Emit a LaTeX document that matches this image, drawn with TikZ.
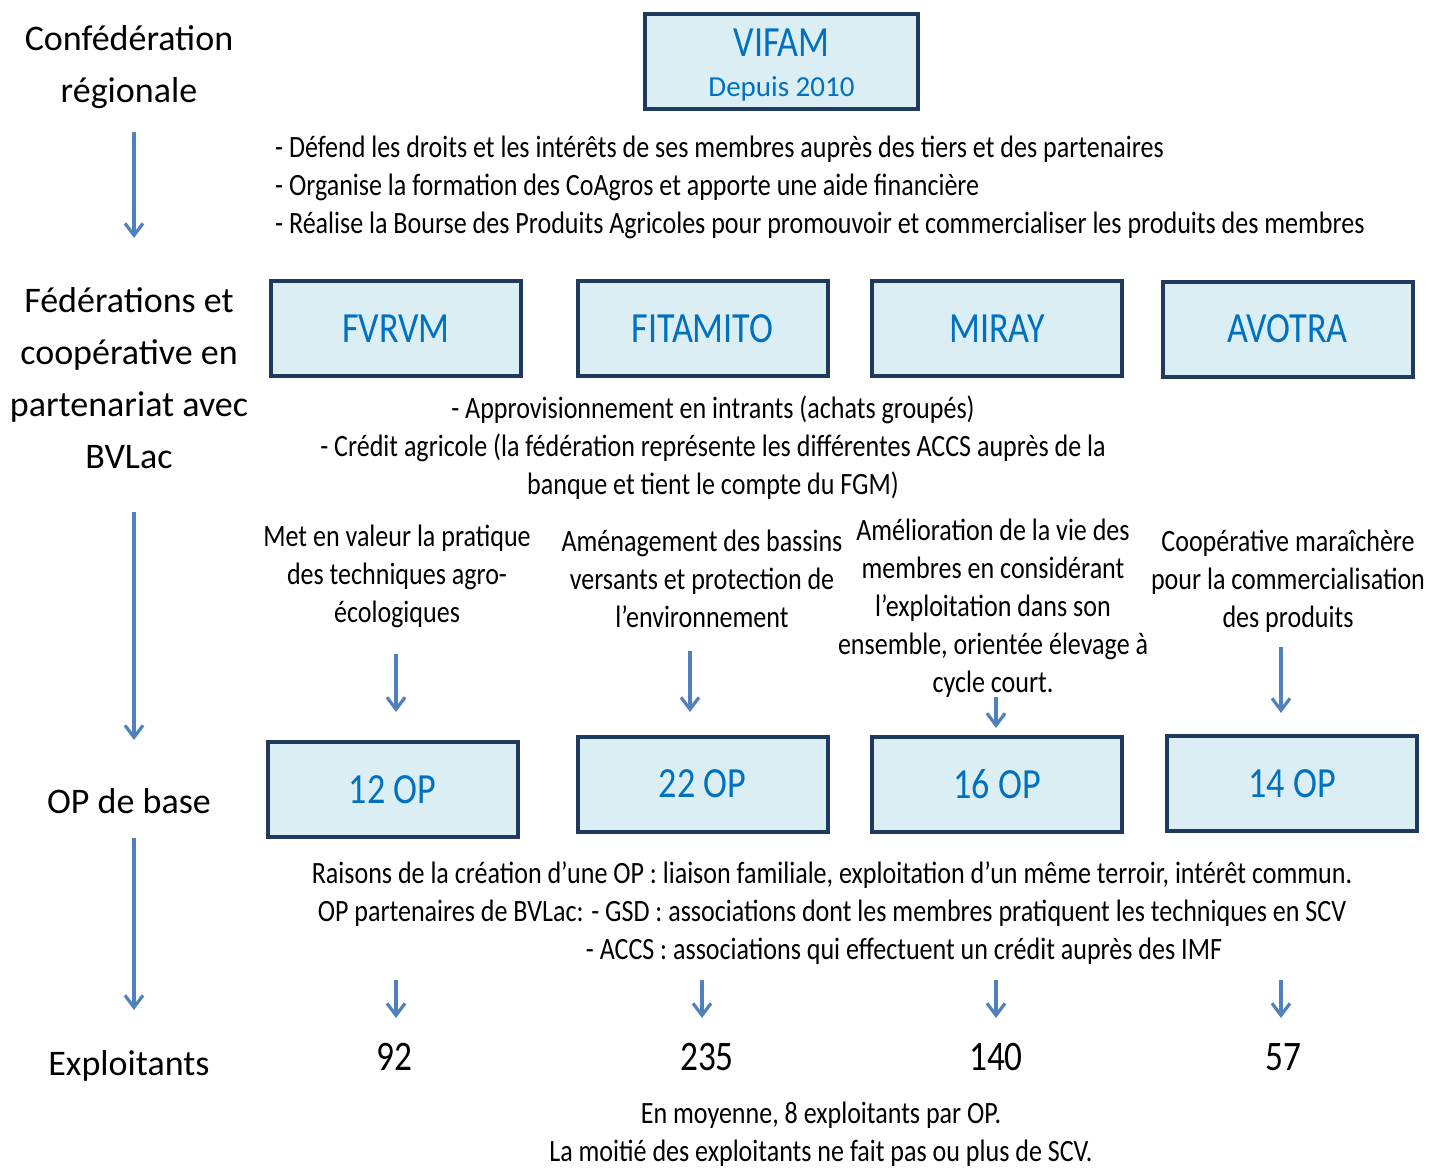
\documentclass[tikz,border=0pt]{standalone}
\usepackage{fontspec}
\setmainfont{Carlito}
\newfontfamily\cond[FakeStretch=0.84]{Carlito}
\usetikzlibrary{arrows.meta}
\definecolor{boxfill}{HTML}{DBEEF4}
\definecolor{boxdraw}{HTML}{1F3A5F}
\definecolor{txtblue}{HTML}{0070C0}
\definecolor{arr}{HTML}{4F81BD}
\begin{document}
\begin{tikzpicture}[x=1pt,y=-1pt,
 box/.style={draw=boxdraw, fill=boxfill, line width=4pt, text=txtblue, font=\cond\fontsize{43}{46}\selectfont, inner sep=0pt, minimum width=250pt, minimum height=95pt},
 boxtxt/.style={text=txtblue, inner sep=0pt},
 lvl/.style={align=center, font=\fontsize{36}{52}\selectfont},
 body/.style={font=\cond\fontsize{31}{38}\selectfont, inner sep=0pt},
 num/.style={font=\cond\fontsize{42}{44}\selectfont, inner sep=0pt},
 arrow/.style={draw=arr, line width=3.2pt, -{Straight Barb[length=12pt,width=18pt]}},
]
\useasboundingbox[fill=white] (0,0) rectangle (1429,1169);

% level labels
\node[lvl] (l1) at (129,67) {Confédération\\régionale};
\node[lvl] (l2) at (129,378) {Fédérations et\\coopérative en\\partenariat avec\\BVLac};
\node[lvl] (l3) at (129,801) {OP de base};
\node[lvl] (l4) at (129,1066) {Exploitants};

% level arrows
\coordinate (a1s) at (134,132); \coordinate (a1e) at (134,238);
\coordinate (a2s) at (134,512); \coordinate (a2e) at (134,740);
\coordinate (a3s) at (134,838); \coordinate (a3e) at (134,1010);
\draw[arrow] (a1s) -- (a1e);
\draw[arrow] (a2s) -- (a2e);
\draw[arrow] (a3s) -- (a3e);

% VIFAM
\node[box, minimum width=273pt, minimum height=95pt] (vifam) at (781.5,61.5) {};
\node[boxtxt, font=\cond\fontsize{43}{46}\selectfont] (vifamt) at (781.5,43) {VIFAM};
\node[boxtxt, font=\fontsize{29}{30}\selectfont] (vifamd) at (781.5,89) {Depuis 2010};

\node[body, align=left, anchor=north west] (t1) at (275,136) {- Défend les droits et les intérêts de ses membres auprès des tiers et des partenaires\\
- Organise la formation des CoAgros et apporte une aide financière\\
- Réalise la Bourse des Produits Agricoles pour promouvoir et commercialiser les produits des membres};

% federations
\node[box] (f1) at (396,328.5) {FVRVM};
\node[box] (f2) at (702.5,328.5) {FITAMITO};
\node[box] (f3) at (997,328.5) {MIRAY};
\node[box] (f4) at (1287.5,329) {AVOTRA};

\node[body, align=center] (t2) at (713,448) {- Approvisionnement en intrants (achats groupés)\\
- Crédit agricole (la fédération représente les différentes ACCS auprès de la\\
banque et tient le compte du FGM)};

% descriptions
\node[body, align=center] (d1) at (397,576) {Met en valeur la pratique\\des techniques agro-\\écologiques};
\node[body, align=center] (d2) at (702,579) {Aménagement des bassins\\versants et protection de\\l’environnement};
\node[body, align=center] (d3) at (993,608) {Amélioration de la vie des\\membres en considérant\\l’exploitation dans son\\ensemble, orientée élevage à\\cycle court.};
\node[body, align=center] (d4) at (1288,581) {Coopérative maraîchère\\pour la commercialisation\\des produits};

% OP boxes
\node[box] (o1) at (392.5,789.5) {12 OP};
\node[box] (o2) at (702.5,784) {22 OP};
\node[box] (o3) at (997,784) {16 OP};
\node[box] (o4) at (1292,783.5) {14 OP};

\coordinate (b1s) at (396,654); \coordinate (b1e) at (396,712);
\coordinate (b2s) at (690,651); \coordinate (b2e) at (690,712);
\coordinate (b3s) at (996,697); \coordinate (b3e) at (996,728);
\coordinate (b4s) at (1281,647); \coordinate (b4e) at (1281,713);
\draw[arrow] (b1s) -- (b1e);
\draw[arrow] (b2s) -- (b2e);
\draw[arrow] (b3s) -- (b3e);
\draw[arrow] (b4s) -- (b4e);

\node[body] (r1) at (832,875) {Raisons de la création d’une OP : liaison familiale, exploitation d’un même terroir, intérêt commun.};
\node[body] (r2) at (832,913) {OP partenaires de BVLac: - GSD : associations dont les membres pratiquent les techniques en SCV};
\node[body] (r3) at (904,951) {- ACCS : associations qui effectuent un crédit auprès des IMF};

\coordinate (c1s) at (396,980); \coordinate (c1e) at (396,1018);
\coordinate (c2s) at (702,980); \coordinate (c2e) at (702,1018);
\coordinate (c3s) at (996,980); \coordinate (c3e) at (996,1018);
\coordinate (c4s) at (1281,980); \coordinate (c4e) at (1281,1018);
\draw[arrow] (c1s) -- (c1e);
\draw[arrow] (c2s) -- (c2e);
\draw[arrow] (c3s) -- (c3e);
\draw[arrow] (c4s) -- (c4e);

\node[num] (n1) at (394,1057) {92};
\node[num] (n2) at (707,1057) {235};
\node[num] (n3) at (996,1057) {140};
\node[num] (n4) at (1283,1057) {57};

\node[body, align=center] (bt) at (821,1134) {En moyenne, 8 exploitants par OP.\\La moitié des exploitants ne fait pas ou plus de SCV.};
\end{tikzpicture}
\end{document}
